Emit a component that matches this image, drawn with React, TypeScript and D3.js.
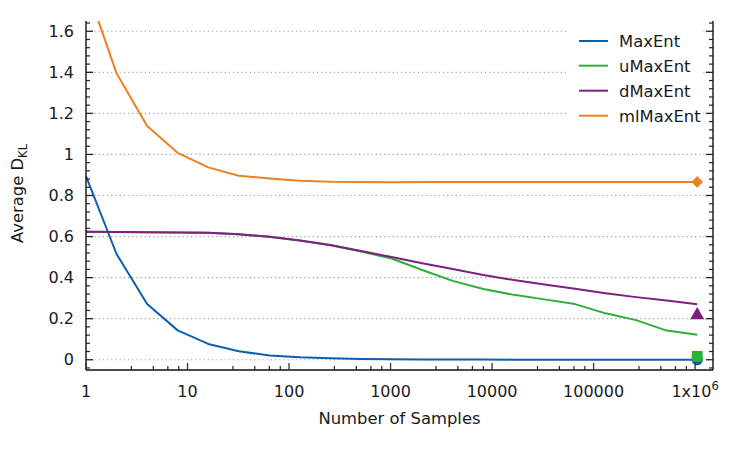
import React from "react";
import * as d3 from "d3";

const samples = d3.range(0, 21).map((k) => Math.pow(2, k));

const maxEnt = [0.895, 0.515, 0.271, 0.143, 0.077, 0.041, 0.021, 0.012, 0.007, 0.004, 0.002, 0.0015, 0.001, 0.0008, 0.0005, 0.0004, 0.0003, 0.0002, 0.0002, 0.0001, 0.0001];
const uMaxEnt = [0.623, 0.622, 0.621, 0.62, 0.618, 0.611, 0.599, 0.581, 0.558, 0.527, 0.493, 0.437, 0.384, 0.345, 0.316, 0.294, 0.271, 0.226, 0.193, 0.142, 0.122];
const dMaxEnt = [0.623, 0.622, 0.621, 0.62, 0.618, 0.611, 0.599, 0.581, 0.559, 0.53, 0.5, 0.47, 0.442, 0.413, 0.388, 0.366, 0.346, 0.324, 0.305, 0.288, 0.27];
const mlMaxEnt = [1.824, 1.395, 1.138, 1.008, 0.937, 0.896, 0.883, 0.872, 0.867, 0.866, 0.865, 0.866, 0.866, 0.866, 0.866, 0.866, 0.866, 0.866, 0.866, 0.866, 0.866];

const seriesNames = ["MaxEnt", "uMaxEnt", "dMaxEnt", "mlMaxEnt"];
const seriesColors = ["#0d5fae", "#2bb03a", "#7f1f80", "#ee8020"];
const seriesValues = [maxEnt, uMaxEnt, dMaxEnt, mlMaxEnt];
const markerValues = [0, 0.0165, 0.217, 0.866];
const markerX = Math.pow(2, 20);

const xMajorTicks = [1, 10, 100, 1000, 10000, 100000, 1000000];
const xTickLabels = ["1", "10", "100", "1000", "10000", "100000", "1x10"];
const yMajorTicks = [0, 0.2, 0.4, 0.6, 0.8, 1, 1.2, 1.4, 1.6];
const yTickLabels = ["0", "0.2", "0.4", "0.6", "0.8", "1", "1.2", "1.4", "1.6"];

const W = 747;
const H = 449;
const left = 86;
const right = 713;
const top = 21;
const bottom = 370;
const font = "DejaVu Sans, sans-serif";
const textColor = "#1a1a1a";

export default function App() {
  const x = d3.scaleLog().domain([1, 1.5e6]).range([left, right]);
  const y = d3.scaleLinear().domain([-0.05, 1.65]).range([bottom, top]);

  const xMinor: number[] = [];
  for (let d = 0; d <= 6; d++) {
    for (let j = 1; j <= 4; j++) {
      const v = Math.pow(10, d) * (1 + 1.8 * j);
      if (v < 1.5e6) xMinor.push(v);
    }
  }
  const yMinor = d3
    .range(-1, 42)
    .map((i) => i * 0.04)
    .filter((v) => v > -0.05 && v < 1.65 && Math.abs(v / 0.2 - Math.round(v / 0.2)) > 0.01);

  const line = d3
    .line<number>()
    .x((_, i) => x(samples[i]))
    .y((v) => y(v));

  const sym = (type: d3.SymbolType, size: number) => d3.symbol(type, size)() || "";

  const legendY = [41, 65.7, 90.7, 115.7];

  return (
    <svg
      width={W}
      height={H}
      viewBox={`0 0 ${W} ${H}`}
      style={{ display: "block", position: "absolute", left: 0, top: 0, background: "#fff" }}
      fontFamily={font}
    >
      <defs>
        <clipPath id="plotClip">
          <rect x={left} y={top} width={right - left} height={bottom - top} />
        </clipPath>
      </defs>
      <rect x={0} y={0} width={W} height={H} fill="#fff" />

      {/* grid */}
      {yMajorTicks.map((t) => (
        <line
          key={"g" + t}
          x1={left}
          x2={right}
          y1={y(t)}
          y2={y(t)}
          stroke="#a0a0a0"
          strokeWidth={1.2}
          strokeDasharray="1.2,3"
        />
      ))}

      {/* lines */}
      <g clipPath="url(#plotClip)">
        {seriesValues.map((vals, i) => (
          <path
            key={seriesNames[i]}
            d={line(vals) || ""}
            fill="none"
            stroke={seriesColors[i]}
            strokeWidth={2}
            strokeLinejoin="round"
          />
        ))}
      </g>

      {/* markers */}
      <g>
        <path
          d={sym(d3.symbolCircle, Math.PI * 5.6 * 5.6)}
          transform={`translate(${x(markerX)},${y(markerValues[0])})`}
          fill={seriesColors[0]}
        />
        <path
          d={sym(d3.symbolSquare, 118)}
          transform={`translate(${x(markerX)},${y(markerValues[1])})`}
          fill={seriesColors[1]}
        />
        <path
          d={sym(d3.symbolTriangle, 85)}
          transform={`translate(${x(markerX)},${y(markerValues[2])})`}
          fill={seriesColors[2]}
        />
        <path
          d={sym(d3.symbolSquare, 68)}
          transform={`translate(${x(markerX)},${y(markerValues[3])}) rotate(45)`}
          fill={seriesColors[3]}
        />
      </g>

      {/* legend */}
      <rect x={566} y={26} width={137} height={102} fill="#fff" />
      {seriesNames.map((name, i) => (
        <g key={"lg" + name}>
          <line x1={579} x2={608} y1={legendY[i]} y2={legendY[i]} stroke={seriesColors[i]} strokeWidth={2} />
          <text x={619} y={legendY[i]} dy="0.36em" fontSize={16.4} fill={textColor}>
            {name}
          </text>
        </g>
      ))}

      {/* axes lines */}
      <line x1={left} x2={left} y1={top} y2={bottom} stroke="#111" strokeWidth={1.4} />
      <line x1={right} x2={right} y1={top} y2={bottom} stroke="#111" strokeWidth={1.4} />
      <line x1={left} x2={right} y1={bottom} y2={bottom} stroke="#111" strokeWidth={1.4} />

      {/* y ticks */}
      {yMajorTicks.map((t) => (
        <g key={"yt" + t}>
          <line x1={left} x2={left + 7} y1={y(t)} y2={y(t)} stroke="#222" strokeWidth={1.3} />
          <line x1={right} x2={right - 7} y1={y(t)} y2={y(t)} stroke="#222" strokeWidth={1.3} />
        </g>
      ))}
      {yMinor.map((t) => (
        <g key={"ym" + t}>
          <line x1={left} x2={left + 4} y1={y(t)} y2={y(t)} stroke="#222" strokeWidth={1.2} />
          <line x1={right} x2={right - 4} y1={y(t)} y2={y(t)} stroke="#222" strokeWidth={1.2} />
        </g>
      ))}
      {yMajorTicks.map((t, i) => (
        <text key={"yl" + t} x={74} y={y(t)} dy="0.36em" textAnchor="end" fontSize={16} fill={textColor}>
          {yTickLabels[i]}
        </text>
      ))}

      {/* x ticks */}
      {xMajorTicks.map((t) => (
        <line key={"xt" + t} x1={x(t)} x2={x(t)} y1={bottom} y2={bottom - 7} stroke="#333" strokeWidth={1.3} />
      ))}
      {xMinor.map((t) => (
        <line key={"xm" + t} x1={x(t)} x2={x(t)} y1={bottom} y2={bottom - 4} stroke="#222" strokeWidth={1.2} />
      ))}
      {xMajorTicks.map((t, i) => (
        <text key={"xl" + t} x={x(t)} y={397} textAnchor="middle" fontSize={16} fill={textColor}>
          {xTickLabels[i]}
          {i === xMajorTicks.length - 1 ? (
            <tspan dy={-7} fontSize={11.5}>
              6
            </tspan>
          ) : null}
        </text>
      ))}

      {/* axis titles */}
      <text x={(left + right) / 2} y={424} textAnchor="middle" fontSize={16.4} fill={textColor}>
        Number of Samples
      </text>
      <text
        transform={`translate(23,${(top + bottom) / 2 - 2}) rotate(-90)`}
        textAnchor="middle"
        fontSize={16.4}
        fill={textColor}
      >
        Average D
        <tspan dy={4} fontSize={11.5}>
          KL
        </tspan>
      </text>
    </svg>
  );
}
